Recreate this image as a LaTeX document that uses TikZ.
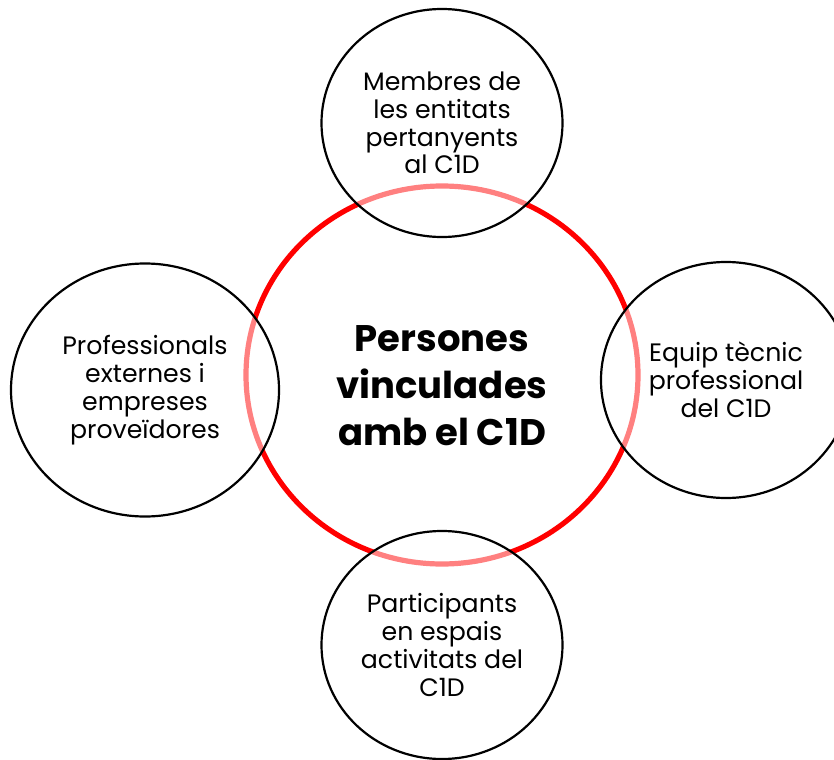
\documentclass[tikz,border=0pt]{standalone}
\usepackage{fontspec}
\setmainfont{Poppins}
\usepackage{tikz}
\usetikzlibrary{shapes.geometric}

\begin{document}
\begin{tikzpicture}[x=0.5bp,y=-0.5bp]
\tikzset{centre/.style = {shape=ellipse,draw=red,line width=2.6bp,inner sep=0pt}}
\tikzset{group/.style = {shape=ellipse,draw=black,line width=1.1bp,inner sep=0pt,
  fill=white,fill opacity=0.5,text opacity=1,align=center,
  font=\fontsize{12.6bp}{13.9bp}\selectfont}}
\useasboundingbox (0,0) rectangle (834,760);
% central circle
\node[centre,minimum width=196bp,minimum height=189bp] (C) at (442,375) {};
\node[align=center,font=\fontsize{18.5bp}{23.5bp}\selectfont\bfseries] (T) at (442,386)
  {Persones\\vinculades\\amb el C1D};
% groups
\node[group,minimum width=120.5bp,minimum height=114bp] (G1) at (442,123)
  {Membres de\\les entitats\\pertanyents\\al C1D};
\node[group,minimum width=125bp,minimum height=118bp] (G2) at (726,380)
  {Equip tècnic\\professional\\del C1D};
\node[group,minimum width=120.5bp,minimum height=114bp] (G3) at (442,645)
  {Participants\\en espais\\activitats del\\C1D};
\node[group,minimum width=134bp,minimum height=126.5bp] (G4) at (145,390)
  {Professionals\\externes i\\empreses\\proveïdores};
\end{tikzpicture}
\end{document}
